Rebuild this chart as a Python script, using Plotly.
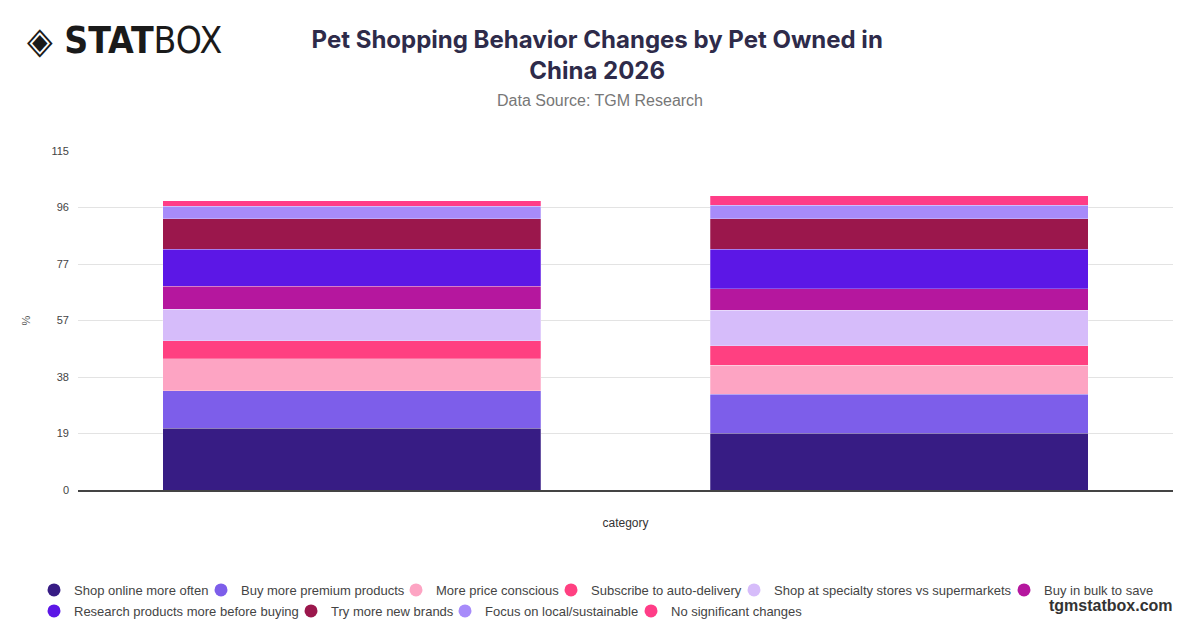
import plotly.graph_objects as go

# two stacked bars (pet owned groups, labels hidden in the source chart)
categories = ["Group A", "Group B"]
series_names = [
    "Shop online more often", "Buy more premium products", "More price conscious",
    "Subscribe to auto-delivery", "Shop at specialty stores vs supermarkets",
    "Buy in bulk to save", "Research products more before buying",
    "Try more new brands", "Focus on local/sustainable", "No significant changes",
]
shop_online = [21.0, 19.2]
premium = [12.6, 13.3]
price_conscious = [11.0, 9.9]
auto_delivery = [6.0, 6.6]
specialty = [10.8, 12.0]
bulk = [7.8, 7.2]
research = [12.5, 13.4]
new_brands = [10.4, 10.4]
local_sust = [4.2, 4.6]
no_change = [1.9, 3.3]
values = [shop_online, premium, price_conscious, auto_delivery, specialty,
          bulk, research, new_brands, local_sust, no_change]
colors = ["#371c84", "#7d5eea", "#fda4c3", "#ff4081", "#d6bcfa",
          "#b5179e", "#5c17e6", "#9b174c", "#a78bfa", "#ff3d87"]
tick_labels = ["0", "19", "38", "57", "77", "96", "115"]
Y_MAX = 115

# legend entry placement (pixels from left, row) - page body adds 8px offset
LEG_X = [26, 193, 388, 543, 726, 996, 26, 283, 437, 623]
LEG_ROW_Y = [582, 603]

fig = go.Figure()
for name, vals, col in zip(series_names, values, colors):
    fig.add_trace(go.Bar(x=categories, y=vals, name=name, marker_color=col, showlegend=False,
                         marker_line=dict(color="rgba(255,255,255,0.5)", width=0.5)))

legends = {}
for i, (name, col) in enumerate(zip(series_names, colors)):
    key = "legend" if i == 0 else f"legend{i + 1}"
    fig.add_trace(go.Scatter(x=[None], y=[None], mode="markers", name=name,
                             marker=dict(symbol="circle", size=13, color=col), legend=key))
    legends[key] = dict(orientation="h", xref="container", yref="container",
                        x=LEG_X[i] / 1200, xanchor="left",
                        y=1 - LEG_ROW_Y[0 if i < 6 else 1] / 628, yanchor="middle",
                        font=dict(size=13, color="#444"), bgcolor="rgba(0,0,0,0)")

fig.update_layout(
    width=1200, height=628, barmode="stack", bargap=0.31,
    paper_bgcolor="white", plot_bgcolor="white",
    font=dict(family="Liberation Sans, Arial, sans-serif", color="#444"),
    margin=dict(l=70, r=35, t=143, b=146, autoexpand=False),
    title=dict(text="<b>Pet Shopping Behavior Changes by Pet Owned in<br>China 2026</b>",
               x=0.491, xanchor="center", yref="container", y=0.936, yanchor="top",
               font=dict(size=24, color="#2e2b4a", family="Inter, Liberation Sans, sans-serif")),
    **legends,
)
fig.update_yaxes(range=[0, Y_MAX], tickvals=[i * Y_MAX / 6 for i in range(7)],
                 ticktext=tick_labels, showgrid=True, gridcolor="#e3e3e3", automargin=False,
                 zeroline=False, tickfont=dict(size=11, color="#444"), ticklabelstandoff=8,
                 title=dict(text="%", font=dict(size=11, color="#555"), standoff=18))
fig.update_xaxes(showticklabels=False, showline=True, linecolor="#444", linewidth=1.5,
                 automargin=False,
                 title=dict(text="category", font=dict(size=12, color="#333"), standoff=28))

fig.add_annotation(text="Data Source: TGM Research", xref="paper", yref="paper",
                   x=0.4767, y=1.1475, xanchor="center", yanchor="middle",
                   showarrow=False, font=dict(size=16, color="#777"))
fig.add_annotation(text="<b>◈ STAT</b>BOX", xref="paper", yref="paper",
                   x=-0.0484, y=1.327, xanchor="left", yanchor="middle", showarrow=False,
                   font=dict(size=37, color="#1a1a1a", family="DejaVu Sans Condensed, sans-serif"))
fig.add_annotation(text="<b>tgmstatbox.com</b>", xref="paper", yref="paper",
                   x=1.0018, y=-0.342, xanchor="right", yanchor="middle",
                   showarrow=False, font=dict(size=16, color="#333"))

fig.write_html("out.html")
